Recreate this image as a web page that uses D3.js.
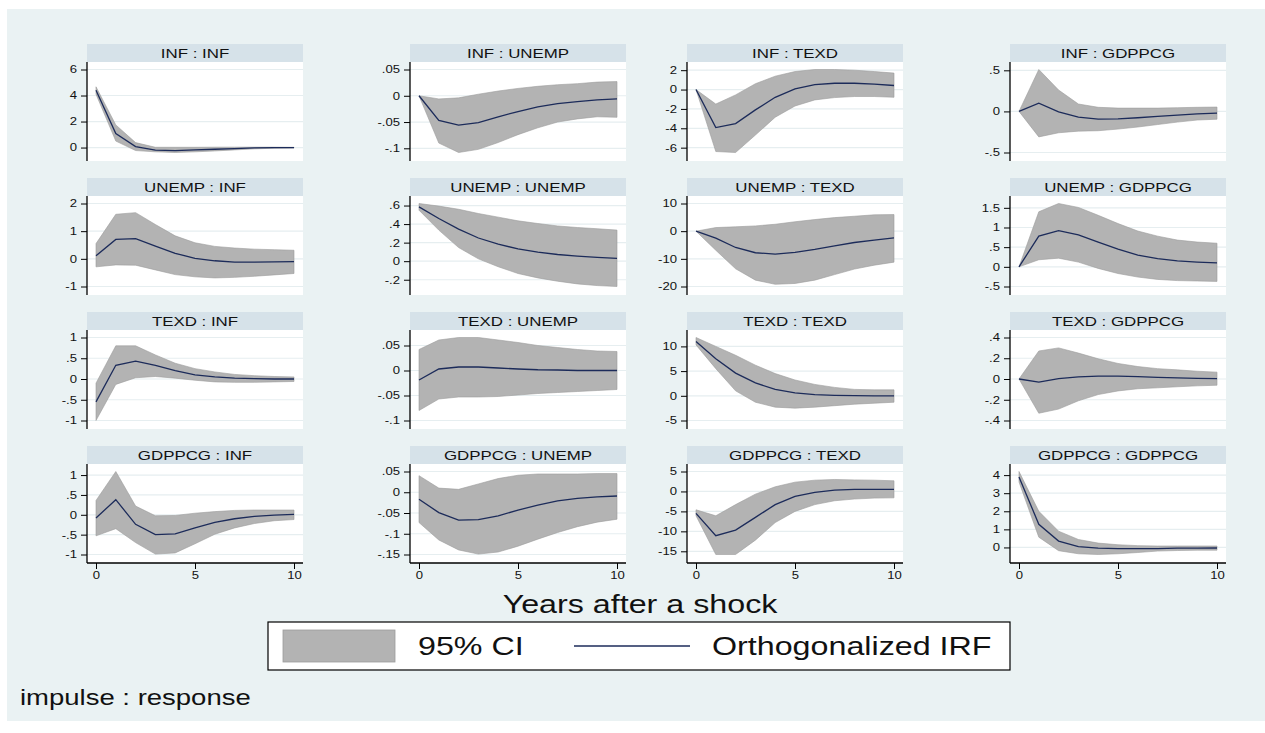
<!DOCTYPE html>
<html>
<head>
<meta charset="utf-8">
<script src="https://cdn.jsdelivr.net/npm/d3@7"></script>
<style>
  body { margin: 0; background: #fff; }
  svg { display: block; }
  text { font-family: "Liberation Sans", Arial, sans-serif; }
</style>
</head>
<body>
<div id="chart"></div>
<script>
// impulse (row) : response (column)
var vars = ["INF", "UNEMP", "TEXD", "GDPPCG"];
var steps = [0, 1, 2, 3, 4, 5, 6, 7, 8, 9, 10];
var xTicks = [0, 5, 10];

// orthogonalized IRF, one row per panel (row-major: impulse, then response)
var irf = [
  [4.4, 1.08, 0.08, -0.2, -0.23, -0.18, -0.13, -0.08, -0.03, 0, 0],
  [0, -0.047, -0.056, -0.051, -0.04, -0.03, -0.021, -0.015, -0.011, -0.008, -0.006],
  [0, -3.93, -3.52, -2.1, -0.8, 0.07, 0.5, 0.65, 0.65, 0.55, 0.42],
  [0, 0.1, -0.005, -0.07, -0.095, -0.09, -0.077, -0.06, -0.045, -0.03, -0.02],
  [0.11, 0.7, 0.73, 0.46, 0.2, 0.02, -0.07, -0.12, -0.12, -0.11, -0.1],
  [0.586, 0.46, 0.345, 0.25, 0.183, 0.133, 0.097, 0.072, 0.054, 0.04, 0.03],
  [0, -2.5, -5.9, -7.8, -8.3, -7.7, -6.6, -5.3, -4.1, -3.25, -2.4],
  [0, 0.78, 0.92, 0.81, 0.63, 0.45, 0.3, 0.21, 0.15, 0.12, 0.1],
  [-0.55, 0.33, 0.43, 0.33, 0.2, 0.1, 0.05, 0.02, 0.01, 0, 0],
  [-0.019, 0.003, 0.007, 0.007, 0.005, 0.003, 0.0015, 0.001, 0, 0, 0],
  [11, 7.5, 4.6, 2.6, 1.3, 0.6, 0.25, 0.1, 0.03, 0, 0],
  [0, -0.03, 0.003, 0.02, 0.028, 0.028, 0.022, 0.015, 0.01, 0.006, 0.003],
  [-0.08, 0.38, -0.24, -0.5, -0.48, -0.33, -0.19, -0.1, -0.04, -0.01, 0.01],
  [-0.017, -0.049, -0.067, -0.066, -0.057, -0.043, -0.031, -0.021, -0.015, -0.011, -0.009],
  [-5.5, -11.1, -9.7, -6.5, -3.3, -1.25, -0.25, 0.33, 0.5, 0.5, 0.5],
  [3.9, 1.28, 0.35, 0.05, -0.04, -0.07, -0.07, -0.06, -0.04, -0.04, -0.03]
];

// 95% CI lower bound
var ciLo = [
  [4.1, 0.5, -0.23, -0.33, -0.38, -0.33, -0.26, -0.18, -0.1, -0.05, -0.03],
  [0, -0.09, -0.108, -0.102, -0.089, -0.074, -0.061, -0.05, -0.044, -0.04, -0.041],
  [0, -6.4, -6.5, -4.7, -2.86, -1.7, -1.07, -0.83, -0.72, -0.72, -0.8],
  [0, -0.31, -0.26, -0.24, -0.235, -0.215, -0.19, -0.16, -0.13, -0.105, -0.095],
  [-0.29, -0.22, -0.23, -0.4, -0.57, -0.65, -0.69, -0.67, -0.63, -0.58, -0.53],
  [0.55, 0.335, 0.147, 0.025, -0.06, -0.133, -0.18, -0.216, -0.245, -0.263, -0.273],
  [0, -6.9, -13.6, -17.7, -19.2, -18.9, -17.7, -15.7, -13.7, -12.3, -11.2],
  [0, 0.18, 0.22, 0.12, -0.04, -0.17, -0.26, -0.32, -0.35, -0.36, -0.37],
  [-1.0, -0.13, 0.03, 0.06, 0.02, -0.03, -0.07, -0.08, -0.08, -0.07, -0.06],
  [-0.08, -0.057, -0.053, -0.053, -0.052, -0.049, -0.046, -0.044, -0.042, -0.04, -0.038],
  [10.3, 5.5, 1.0, -1.3, -2.3, -2.5, -2.3, -2.0, -1.7, -1.5, -1.3],
  [0, -0.33, -0.29, -0.21, -0.15, -0.115, -0.094, -0.085, -0.075, -0.066, -0.06],
  [-0.53, -0.35, -0.7, -0.99, -0.96, -0.73, -0.49, -0.33, -0.22, -0.15, -0.12],
  [-0.073, -0.115, -0.139, -0.149, -0.144, -0.13, -0.113, -0.097, -0.083, -0.072, -0.065],
  [-6.1, -15.8, -15.8, -12.2, -7.8, -5, -3.3, -2.33, -1.9, -1.67, -1.6],
  [3.62, 0.57, -0.18, -0.35, -0.39, -0.35, -0.28, -0.2, -0.17, -0.15, -0.15]
];

// 95% CI upper bound
var ciHi = [
  [4.67, 1.74, 0.38, 0.02, 0.02, 0.02, 0.03, 0.03, 0.03, 0.03, 0.02],
  [0, -0.006, -0.004, 0.003, 0.009, 0.014, 0.018, 0.021, 0.023, 0.026, 0.027],
  [0, -1.5, -0.55, 0.6, 1.38, 1.86, 2.07, 2.07, 2.0, 1.86, 1.7],
  [0, 0.51, 0.26, 0.09, 0.05, 0.04, 0.04, 0.04, 0.045, 0.05, 0.053],
  [0.55, 1.61, 1.67, 1.24, 0.83, 0.58, 0.45, 0.39, 0.35, 0.33, 0.31],
  [0.622, 0.594, 0.56, 0.514, 0.475, 0.435, 0.406, 0.38, 0.363, 0.35, 0.335],
  [0, 1.3, 1.57, 1.9, 2.5, 3.4, 4.2, 4.9, 5.4, 5.9, 6.0],
  [0, 1.4, 1.61, 1.51, 1.31, 1.1, 0.91, 0.78, 0.68, 0.63, 0.6],
  [-0.1, 0.8, 0.8, 0.58, 0.38, 0.25, 0.17, 0.11, 0.08, 0.06, 0.05],
  [0.042, 0.061, 0.066, 0.066, 0.061, 0.056, 0.05, 0.046, 0.042, 0.039, 0.038],
  [11.8, 10, 8.2, 6.2, 4.5, 3.2, 2.3, 1.7, 1.3, 1.2, 1.2],
  [0, 0.27, 0.3, 0.25, 0.195, 0.15, 0.12, 0.1, 0.088, 0.075, 0.066],
  [0.36, 1.09, 0.22, -0.025, -0.017, 0.04, 0.08, 0.11, 0.12, 0.12, 0.12],
  [0.04, 0.01, 0.007, 0.02, 0.033, 0.041, 0.044, 0.044, 0.044, 0.045, 0.045],
  [-4.6, -6.1, -3.3, -0.67, 1.17, 2.33, 2.83, 3.0, 2.9, 2.83, 2.67],
  [4.2, 2.0, 0.9, 0.44, 0.24, 0.15, 0.1, 0.08, 0.08, 0.08, 0.08]
];

// y-axis tick values per panel
var yTicks = [
  [0, 2, 4, 6], [-0.1, -0.05, 0, 0.05], [-6, -4, -2, 0, 2], [-0.5, 0, 0.5],
  [-1, 0, 1, 2], [-0.2, 0, 0.2, 0.4, 0.6], [-20, -10, 0, 10], [-0.5, 0, 0.5, 1, 1.5],
  [-1, -0.5, 0, 0.5, 1], [-0.1, -0.05, 0, 0.05], [-5, 0, 5, 10], [-0.4, -0.2, 0, 0.2, 0.4],
  [-1, -0.5, 0, 0.5, 1], [-0.15, -0.1, -0.05, 0, 0.05], [-15, -10, -5, 0, 5], [0, 1, 2, 3, 4]
];

var W = 1265, H = 733;
var colLeft = [87, 410, 687, 1010],
    panelW = 216,
    rowTop = [44, 178, 312, 446],
    stripH = 18,
    plotH = 99;

var bgCol = "#eaf2f3",
    stripCol = "#d6e2e9",
    gridCol = "#e6eef0",
    bandCol = "#b3b3b3",
    lineCol = "#1c2b5a";

// the original export is stretched sideways, so text is widened
var sx = 1.25;

// Stata style: plain hyphen, no leading zero (0.05 -> .05)
function stataNum(v) {
  return d3.format("~g")(v).replace("\u2212", "-").replace(/^(-?)0\./, "$1.");
}

var svg = d3.select("#chart").append("svg")
    .attr("width", W)
    .attr("height", H);

function label(parent, x, y, size, anchor, txt) {
  return parent.append("text")
      .attr("transform", "translate(" + x + "," + y + ") scale(" + sx + ",1)")
      .attr("dy", "0.36em")
      .attr("text-anchor", anchor)
      .style("font-size", size + "px")
      .attr("fill", "#111")
      .text(txt);
}

svg.append("rect")
    .attr("x", 7).attr("y", 9)
    .attr("width", W - 7).attr("height", 712)
    .attr("fill", bgCol);

vars.forEach(function(imp, i) {
  vars.forEach(function(resp, j) {
    var k = i * 4 + j;
    var left = colLeft[j],
        top = rowTop[i] + stripH,
        ticks = yTicks[k];

    var data = steps.map(function(s, n) {
      return { step: s, irf: irf[k][n], lo: ciLo[k][n], hi: ciHi[k][n] };
    });

    var x = d3.scaleLinear().domain([0, 10]).range([left + 9, left + panelW - 9]);
    var yMin = Math.min(d3.min(data, function(d) { return d.lo; }), ticks[0]),
        yMax = Math.max(d3.max(data, function(d) { return d.hi; }), ticks[ticks.length - 1]);
    var y = d3.scaleLinear().domain([yMin, yMax]).range([top + plotH - 8.5, top + 7.5]);

    var g = svg.append("g").attr("class", "panel");

    // strip title
    g.append("rect")
        .attr("x", left).attr("y", rowTop[i])
        .attr("width", panelW).attr("height", stripH)
        .attr("fill", stripCol);
    label(g, left + panelW / 2, rowTop[i] + stripH / 2, 13.5, "middle", imp + " : " + resp);

    // plot region
    g.append("rect")
        .attr("x", left).attr("y", top)
        .attr("width", panelW).attr("height", plotH)
        .attr("fill", "#fff");

    // grid
    g.selectAll(".grid")
      .data(ticks)
      .enter().append("line")
        .attr("x1", left).attr("x2", left + panelW)
        .attr("y1", function(d) { return y(d); })
        .attr("y2", function(d) { return y(d); })
        .attr("stroke", gridCol)
        .attr("stroke-width", 1.2);

    // confidence band
    var area = d3.area()
        .x(function(d) { return x(d.step); })
        .y0(function(d) { return y(d.lo); })
        .y1(function(d) { return y(d.hi); });
    g.append("path")
        .datum(data)
        .attr("d", area)
        .attr("fill", bandCol)
        .attr("stroke", "#9c9c9c")
        .attr("stroke-width", 0.6);

    // irf line
    var line = d3.line()
        .x(function(d) { return x(d.step); })
        .y(function(d) { return y(d.irf); });
    g.append("path")
        .datum(data)
        .attr("d", line)
        .attr("fill", "none")
        .attr("stroke", lineCol)
        .attr("stroke-width", 1.3);

    // y axis
    var yAxis = d3.axisLeft(y).tickValues(ticks).tickSize(6).tickPadding(4).tickFormat(stataNum);
    var yG = g.append("g")
        .attr("transform", "translate(" + left + ",0)")
        .call(yAxis);
    yG.select(".domain")
        .attr("d", "M0," + top + "V" + (top + plotH))
        .attr("stroke-width", 1.3);
    yG.selectAll(".tick text")
        .style("font-size", "10.5px")
        .attr("fill", "#111")
        .attr("x", -10 / sx)
        .attr("transform", "scale(" + sx + ",1)");

    // x axis only on the bottom row
    if (i === 3) {
      var xAxis = d3.axisBottom(x).tickValues(xTicks).tickSize(6).tickPadding(3);
      var xG = g.append("g")
          .attr("transform", "translate(0," + (top + plotH) + ")")
          .call(xAxis);
      xG.select(".domain")
          .attr("d", "M" + left + ",0H" + (left + panelW))
          .attr("stroke-width", 1.3);
      xG.selectAll(".tick text")
          .style("font-size", "10.5px")
          .attr("fill", "#111")
          .attr("transform", "scale(" + sx + ",1)");
    }
  });
});

// x title
label(svg, 640, 604, 25.8, "middle", "Years after a shock");

// legend
var leg = svg.append("g");
leg.append("rect")
    .attr("x", 268).attr("y", 622)
    .attr("width", 742).attr("height", 48)
    .attr("fill", "#fff")
    .attr("stroke", "#000")
    .attr("stroke-width", 1.2);
leg.append("rect")
    .attr("x", 283).attr("y", 630)
    .attr("width", 112).attr("height", 32)
    .attr("fill", bandCol)
    .attr("stroke", "#9c9c9c")
    .attr("stroke-width", 0.8);
label(leg, 418, 646, 25.8, "start", "95% CI");
leg.append("line")
    .attr("x1", 574).attr("x2", 690)
    .attr("y1", 646).attr("y2", 646)
    .attr("stroke", lineCol)
    .attr("stroke-width", 1.3);
label(leg, 712, 646, 25.8, "start", "Orthogonalized IRF");

label(svg, 20, 697, 22, "start", "impulse : response");
</script>
</body>
</html>
